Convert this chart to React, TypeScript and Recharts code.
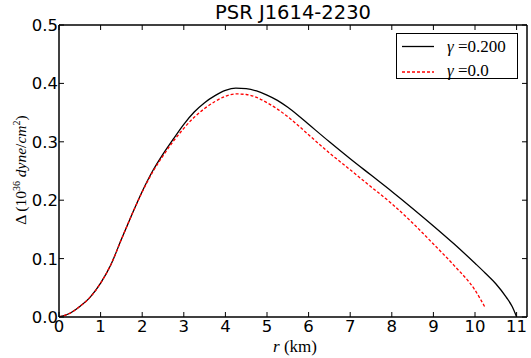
import React from 'react';
import { LineChart, Line, XAxis, YAxis } from 'recharts';

const rBlack = [0, 0.25, 0.5, 0.75, 1.0, 1.25, 1.5, 1.75, 2.0, 2.25, 2.5, 2.75, 3.0, 3.25, 3.5, 3.75, 4.0, 4.25, 4.5, 4.75, 5.0, 5.25, 5.5, 5.75, 6.0, 6.5, 7.0, 7.5, 8.0, 8.5, 9.0, 9.5, 10.0, 10.25, 10.5, 10.75, 10.9, 11.0];
const gamma200 = [0, 0.006, 0.018, 0.034, 0.058, 0.09, 0.133, 0.175, 0.215, 0.25, 0.279, 0.305, 0.33, 0.351, 0.367, 0.379, 0.388, 0.392, 0.391, 0.387, 0.38, 0.371, 0.359, 0.345, 0.33, 0.3, 0.271, 0.243, 0.215, 0.186, 0.156, 0.125, 0.092, 0.075, 0.057, 0.034, 0.017, 0.0];

const rRed = [0, 0.25, 0.5, 0.75, 1.0, 1.25, 1.5, 1.75, 2.0, 2.25, 2.5, 2.75, 3.0, 3.25, 3.5, 3.75, 4.0, 4.25, 4.5, 4.75, 5.0, 5.25, 5.5, 5.75, 6.0, 6.5, 7.0, 7.5, 8.0, 8.5, 9.0, 9.5, 10.0, 10.23];
const gamma0 = [0, 0.006, 0.018, 0.034, 0.058, 0.09, 0.133, 0.175, 0.214, 0.248, 0.276, 0.301, 0.323, 0.342, 0.357, 0.369, 0.378, 0.382, 0.381, 0.376, 0.367, 0.356, 0.343, 0.328, 0.312, 0.281, 0.252, 0.223, 0.194, 0.161, 0.125, 0.088, 0.046, 0.018];

const xTicks = [0, 1, 2, 3, 4, 5, 6, 7, 8, 9, 10, 11];
const yTicks = [0, 0.1, 0.2, 0.3, 0.4, 0.5];

const blackData = rBlack.map((r, i) => ({ r, v: gamma200[i] }));
const redData = rRed.map((r, i) => ({ r, v: gamma0[i] }));

const TICK_FONT = '"DejaVu Sans", sans-serif';
const SERIF = '"Liberation Serif", "DejaVu Serif", serif';
const TL = 5;

const BottomTick = (props: any) => {
  const { x, y, payload } = props;
  return (
    <g>
      <line x1={x} x2={x} y1={y} y2={y - TL} stroke="#000" strokeWidth={1} />
      <text x={x} y={y + 15} textAnchor="middle" fontSize={16.5} fontFamily={TICK_FONT} fill="#000">
        {payload.value}
      </text>
    </g>
  );
};

const TopTick = (props: any) => {
  const { x, y } = props;
  return <line x1={x} x2={x} y1={y} y2={y + TL} stroke="#000" strokeWidth={1} />;
};

const LeftTick = (props: any) => {
  const { x, y, payload } = props;
  return (
    <g>
      <line x1={x} x2={x + TL} y1={y} y2={y} stroke="#000" strokeWidth={1} />
      <text x={x - 1} y={y + 6} textAnchor="end" fontSize={16.5} fontFamily={TICK_FONT} fill="#000">
        {Number(payload.value).toFixed(1)}
      </text>
    </g>
  );
};

const RightTick = (props: any) => {
  const { x, y } = props;
  return <line x1={x} x2={x - TL} y1={y} y2={y} stroke="#000" strokeWidth={1} />;
};

export default function App() {
  const axisLine = { stroke: '#000', strokeWidth: 1.5 };
  const supStyle = { fontSize: 10, verticalAlign: '6px', lineHeight: 0 };
  return (
    <div style={{ position: 'absolute', left: 0, top: 0, width: 531, height: 358, background: '#fff' }}>
      <LineChart width={531} height={358} margin={{ top: 0, right: 0, bottom: 0, left: 0 }}>
        <XAxis
          xAxisId="b"
          dataKey="r"
          type="number"
          domain={[0, 11.25]}
          ticks={xTicks}
          allowDataOverflow
          height={41}
          tickSize={0}
          tickMargin={0}
          tickLine={false}
          axisLine={axisLine}
          tick={<BottomTick />}
          interval={0}
        />
        <XAxis
          xAxisId="t"
          orientation="top"
          dataKey="r"
          type="number"
          domain={[0, 11.25]}
          ticks={xTicks}
          allowDataOverflow
          height={25}
          tickSize={0}
          tickMargin={0}
          tickLine={false}
          axisLine={axisLine}
          tick={<TopTick />}
          interval={0}
        />
        <YAxis
          yAxisId="l"
          type="number"
          domain={[0, 0.5]}
          ticks={yTicks}
          allowDataOverflow
          width={59}
          tickSize={0}
          tickMargin={0}
          tickLine={false}
          axisLine={axisLine}
          tick={<LeftTick />}
          interval={0}
        />
        <YAxis
          yAxisId="r"
          orientation="right"
          type="number"
          domain={[0, 0.5]}
          ticks={yTicks}
          allowDataOverflow
          width={4}
          tickSize={0}
          tickMargin={0}
          tickLine={false}
          axisLine={axisLine}
          tick={<RightTick />}
          interval={0}
        />
        <Line
          xAxisId="b"
          yAxisId="l"
          data={blackData}
          dataKey="v"
          type="monotone"
          stroke="#000"
          strokeWidth={1.3}
          dot={false}
          isAnimationActive={false}
        />
        <Line
          xAxisId="b"
          yAxisId="l"
          data={redData}
          dataKey="v"
          type="monotone"
          stroke="#ff0000"
          strokeWidth={1.3}
          strokeDasharray="3 2"
          dot={false}
          isAnimationActive={false}
        />
      </LineChart>

      <div style={{ position: 'absolute', left: 93, top: 0, width: 400, textAlign: 'center', fontFamily: TICK_FONT, fontSize: 19.5, lineHeight: '26px', color: '#000' }}>
        PSR J1614-2230
      </div>

      <div style={{ position: 'absolute', left: 195, top: 336, width: 200, textAlign: 'center', fontFamily: SERIF, fontSize: 17, lineHeight: '22px', color: '#000' }}>
        <i>r</i> (km)
      </div>

      <div style={{ position: 'absolute', left: 21 - 110, top: 170 - 12, width: 220, height: 24, lineHeight: '24px', textAlign: 'center', transform: 'rotate(-90deg)', fontFamily: SERIF, fontSize: 15.5, color: '#000', whiteSpace: 'nowrap' }}>
        Δ (10<sup style={supStyle}>36</sup> <i>dyne</i>/<i>cm</i><sup style={supStyle}>2</sup>)
      </div>

      <div style={{ position: 'absolute', left: 396, top: 33, width: 122, height: 46, boxSizing: 'border-box', border: '1px solid #000', background: '#fff' }}>
        <svg width={120} height={44} overflow="visible" style={{ position: 'absolute', left: 0, top: 0, overflow: 'visible' }}>
          <line x1={5} x2={37} y1={12.5} y2={12.5} stroke="#000" strokeWidth={1.3} />
          <line x1={5} x2={37} y1={38} y2={38} stroke="#ff0000" strokeWidth={1.3} strokeDasharray="3 2" />
          <text x={50} y={18} fontFamily={SERIF} fontSize={17} fill="#000"><tspan fontStyle="italic">γ</tspan> =0.200</text>
          <text x={50} y={42} fontFamily={SERIF} fontSize={17} fill="#000"><tspan fontStyle="italic">γ</tspan> =0.0</text>
        </svg>
      </div>
    </div>
  );
}
